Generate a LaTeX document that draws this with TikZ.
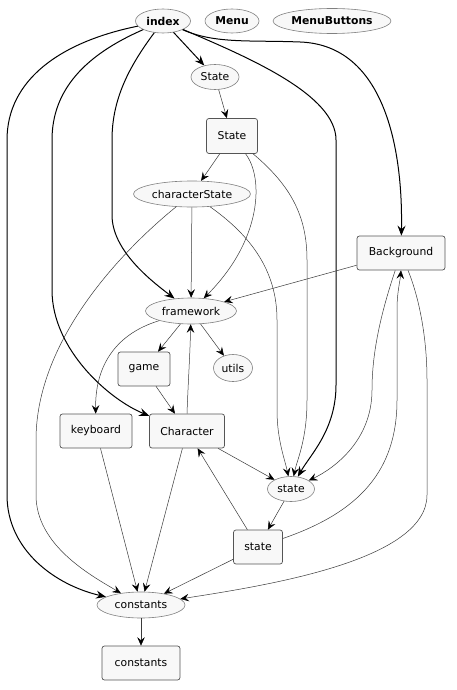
\documentclass[tikz,border=0pt]{standalone}
\usepackage{fontspec}
\setmainfont{DejaVu Sans}
\usetikzlibrary{arrows.meta,shapes.geometric}
\definecolor{nodefill}{HTML}{F8F8F8}
\definecolor{boxline}{HTML}{555555}
\definecolor{elline}{HTML}{808080}
\definecolor{thinline}{HTML}{3A3A3A}
\begin{document}
\begin{tikzpicture}[x=1pt,y=-1pt,
  every node/.style={font=\fontsize{10.8}{12}\selectfont, inner sep=0pt},
  el/.style={ellipse, draw=elline, fill=nodefill, line width=0.6pt},
  bx/.style={rectangle, rounded corners=2.5pt, draw=boxline, fill=nodefill, line width=0.7pt},
  bld/.style={font=\fontsize{10.8}{12}\selectfont\bfseries},
  thinedge/.style={draw=thinline, line width=0.5pt, -{Stealth[length=8.5pt,width=7.5pt,inset=3.2pt,color=black]}},
  thickedge/.style={draw=black, line width=1pt, -{Stealth[length=10pt,width=8pt,inset=3.5pt]}},
]
\useasboundingbox (0,0) rectangle (456,690);
\fill[white] (0,0) rectangle (456,690);

% nodes
\node[el,bld,minimum width=55pt,minimum height=24pt] (index) at (163,21) {index};
\node[el,bld,minimum width=54pt,minimum height=24pt] (menu) at (232,21) {Menu};
\node[el,bld,minimum width=118pt,minimum height=25pt] (menub) at (332,21) {MenuButtons};
\node[el,minimum width=48pt,minimum height=25pt] (stateE) at (215,77) {State};
\node[bx,minimum width=51pt,minimum height=35pt] (stateB) at (232,136) {State};
\node[el,minimum width=117pt,minimum height=26pt] (charS) at (192,194) {characterState};
\node[bx,minimum width=88pt,minimum height=34pt] (bg) at (401,253) {Background};
\node[el,minimum width=91pt,minimum height=26pt] (fw) at (191,311) {framework};
\node[bx,minimum width=52pt,minimum height=34pt] (game) at (144,369) {game};
\node[el,minimum width=39pt,minimum height=27pt] (utils) at (233,368) {utils};
\node[bx,minimum width=72pt,minimum height=34pt] (kb) at (96,431) {keyboard};
\node[bx,minimum width=75pt,minimum height=34pt] (char) at (187,431) {Character};
\node[el,minimum width=47pt,minimum height=25pt] (stE) at (291,489) {state};
\node[bx,minimum width=49pt,minimum height=34pt] (stB) at (258,547) {state};
\node[el,minimum width=88pt,minimum height=26pt] (constE) at (141,605) {constants};
\node[bx,minimum width=78pt,minimum height=34pt] (constB) at (141,663) {constants};

% thick edges from index
\draw[thickedge] (index) -- (stateE);
\draw[thickedge] (index) .. controls (60,42) and (7,80) .. (7,140) -- (7,495)
  .. controls (7,550) and (55,585) .. (constE);
\draw[thickedge] (index) .. controls (85,55) and (52,90) .. (52,140) -- (52,290)
  .. controls (52,350) and (110,400) .. (char);
\draw[thickedge] (index) .. controls (128,68) and (112,100) .. (112,140) -- (112,215)
  .. controls (112,250) and (150,280) .. (fw);
\draw[thickedge] (index) .. controls (250,58) and (336,95) .. (336,140) -- (336,385)
  .. controls (336,430) and (310,455) .. (stE);
\draw[thickedge] (index) .. controls (215,44) and (250,40) .. (300,42)
  .. controls (385,45) and (403,150) .. (bg);

% thin edges
\draw[thinedge] (stateE) -- (stateB);
\draw[thinedge] (stateB) -- (charS);
\draw[thinedge] (stateB) .. controls (264,178) and (262,240) .. (fw);
\draw[thinedge] (stateB) .. controls (290,185) and (307,215) .. (307,260) -- (307,400)
  .. controls (307,440) and (297,460) .. (stE);
\draw[thinedge] (charS) -- (fw);
\draw[thinedge] (charS) .. controls (140,236) and (36,330) .. (36,440) -- (36,495)
  .. controls (36,545) and (90,575) .. (constE);
\draw[thinedge] (charS) .. controls (250,235) and (277,270) .. (277,320) -- (277,410)
  .. controls (277,440) and (285,460) .. (stE);
\draw[thinedge] (bg) -- (fw);
\draw[thinedge] (bg) .. controls (382,310) and (372,350) .. (372,390)
  .. controls (372,440) and (335,468) .. (stE);
\draw[thinedge] (stB) .. controls (360,512) and (397,470) .. (397,400) -- (397,310)
  .. controls (397,292) and (400,282) .. (bg.south);
\draw[thinedge] (bg) .. controls (420,300) and (427,340) .. (427,380) -- (427,495)
  .. controls (427,560) and (270,585) .. (constE);
\draw[thinedge] (fw) -- (game);
\draw[thinedge] (fw) -- (utils);
\draw[thinedge] (fw) .. controls (112,335) and (95,370) .. (kb);
\draw[thinedge] (game) -- (char);
\draw[thinedge] (char.north) .. controls (188,385) and (190,355) .. (fw);
\draw[thinedge] (char) -- (stE);
\draw[thinedge] (char) -- (constE);
\draw[thinedge] (kb) -- (constE);
\draw[thinedge] (stB) -- (char);
\draw[thinedge] (stE) -- (stB);
\draw[thinedge] (stB) -- (constE);
\draw[thinedge] (constE) -- (constB);
\end{tikzpicture}
\end{document}
